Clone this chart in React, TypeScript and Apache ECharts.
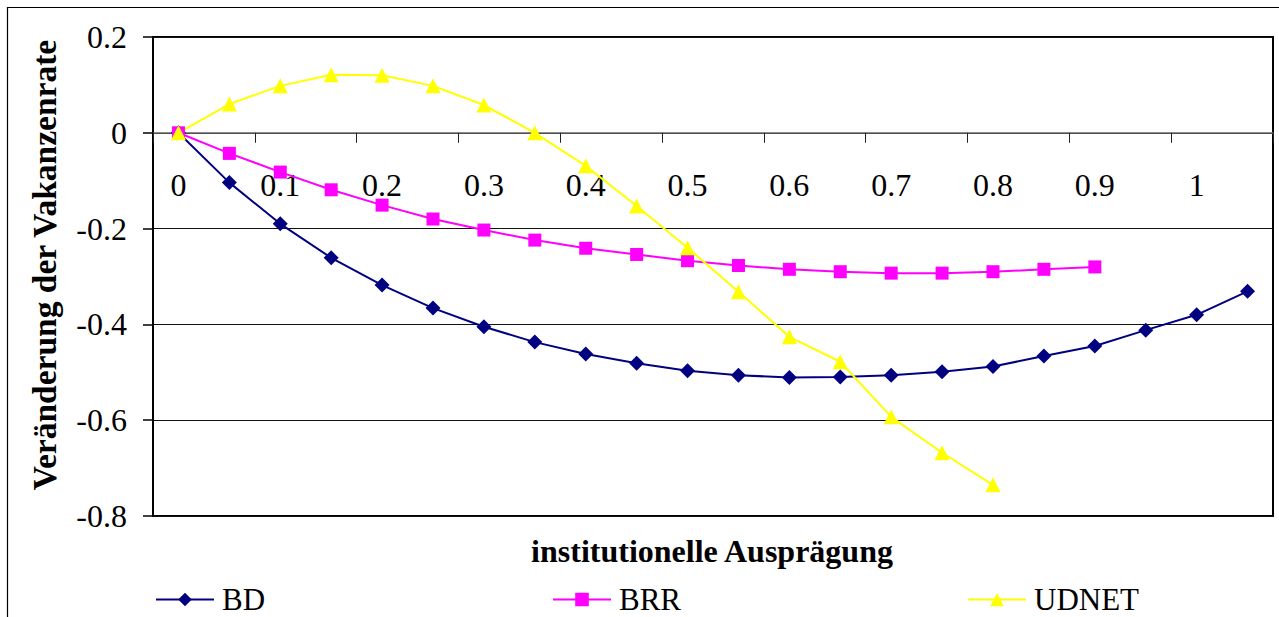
import React, { useEffect, useRef } from "react";
import * as echarts from "echarts";

const categories = [
  "0", "0.05", "0.1", "0.15", "0.2", "0.25", "0.3", "0.35", "0.4", "0.45", "0.5",
  "0.55", "0.6", "0.65", "0.7", "0.75", "0.8", "0.85", "0.9", "0.95", "1", "1.05",
];
const bdValues = [
  0, -0.104, -0.19, -0.261, -0.318, -0.366, -0.405, -0.437, -0.462, -0.481, -0.497,
  -0.506, -0.511, -0.51, -0.506, -0.499, -0.488, -0.466, -0.445, -0.412, -0.38, -0.331,
];
const brrValues = [
  0, -0.043, -0.082, -0.119, -0.151, -0.18, -0.203, -0.224, -0.241, -0.254, -0.267,
  -0.277, -0.285, -0.29, -0.293, -0.293, -0.29, -0.285, -0.28,
];
const udnetValues = [
  0, 0.06, 0.098, 0.121, 0.12, 0.098, 0.058, 0.0, -0.069, -0.153, -0.24,
  -0.332, -0.426, -0.478, -0.593, -0.668, -0.735,
];
const seriesNames = ["BD", "BRR", "UDNET"];
const yTitle = "Veränderung der Vakanzenrate";
const xTitle = "institutionelle Ausprägung";

const FONT = "Liberation Serif";

export default function App() {
  const ref = useRef<HTMLDivElement>(null);
  useEffect(() => {
    document.body.style.margin = "0";
    if (!ref.current) return;
    const chart = echarts.init(ref.current, undefined, { renderer: "svg" });
    const legendBase = {
      top: 584,
      padding: 0,
      itemWidth: 58,
      itemHeight: 17,
      textStyle: { fontSize: 31, fontFamily: FONT, color: "#000", lineHeight: 30, padding: [0, 0, 0, 3] },
    };
    chart.setOption({
      animation: false,
      backgroundColor: "#fff",
      grid: {
        left: 153,
        top: 37,
        right: 6,
        bottom: 101,
        show: true,
        borderColor: "#000",
        borderWidth: 2,
      },
      xAxis: {
        type: "category",
        data: categories,
        boundaryGap: true,
        position: "bottom",
        offset: -383.2,
        axisLine: { show: true, onZero: false, lineStyle: { color: "#666", width: 1.5 } },
        axisTick: { show: true, interval: 1, length: 10, lineStyle: { color: "#222", width: 1 } },
        axisLabel: {
          interval: 1,
          margin: 36,
          fontSize: 32,
          fontFamily: FONT,
          color: "#000",
        },
        splitLine: { show: false },
      },
      yAxis: {
        type: "value",
        min: -0.8,
        max: 0.2,
        interval: 0.2,
        axisLine: { show: true, onZero: false, lineStyle: { color: "#000", width: 2 } },
        axisTick: { show: true, length: 10, lineStyle: { color: "#000", width: 1.5 } },
        axisLabel: {
          margin: 26,
          fontSize: 32,
          fontFamily: FONT,
          color: "#000",
          formatter: (v: number) => String(Math.round(v * 10) / 10),
        },
        splitLine: { show: true, lineStyle: { color: "#111", width: 1 } },
      },
      legend: [
        { ...legendBase, left: 155, data: [seriesNames[0]] },
        { ...legendBase, left: 552, data: [seriesNames[1]] },
        { ...legendBase, left: 967, data: [seriesNames[2]] },
      ],
      series: [
        {
          name: seriesNames[0],
          type: "line",
          data: bdValues,
          symbol: "diamond",
          symbolSize: 15,
          lineStyle: { color: "#000080", width: 2 },
          itemStyle: { color: "#000080" },
        },
        {
          name: seriesNames[1],
          type: "line",
          data: brrValues,
          symbol: "rect",
          symbolSize: 13,
          lineStyle: { color: "#FF00FF", width: 2 },
          itemStyle: { color: "#FF00FF" },
        },
        {
          name: seriesNames[2],
          type: "line",
          data: udnetValues,
          symbol: "triangle",
          symbolSize: 15,
          lineStyle: { color: "#FFFF00", width: 2 },
          itemStyle: { color: "#FFFF00" },
        },
      ],
      graphic: [
        {
          type: "rect",
          shape: { x: 7.5, y: 7.5, width: 1300, height: 700 },
          style: { fill: "none", stroke: "#000", lineWidth: 1.2 },
          silent: true,
        },
        {
          type: "text",
          x: 44,
          y: 265,
          rotation: Math.PI / 2,
          style: {
            text: yTitle,
            fontSize: 33.5,
            fontWeight: "bold",
            fontFamily: FONT,
            fill: "#000",
            textAlign: "center",
            textVerticalAlign: "middle",
          },
        },
        {
          type: "text",
          x: 712,
          y: 551,
          style: {
            text: xTitle,
            fontSize: 32,
            fontWeight: "bold",
            fontFamily: FONT,
            fill: "#000",
            textAlign: "center",
            textVerticalAlign: "middle",
          },
        },
      ],
    });
    return () => chart.dispose();
  }, []);
  return <div ref={ref} style={{ width: 1279, height: 617 }} />;
}
